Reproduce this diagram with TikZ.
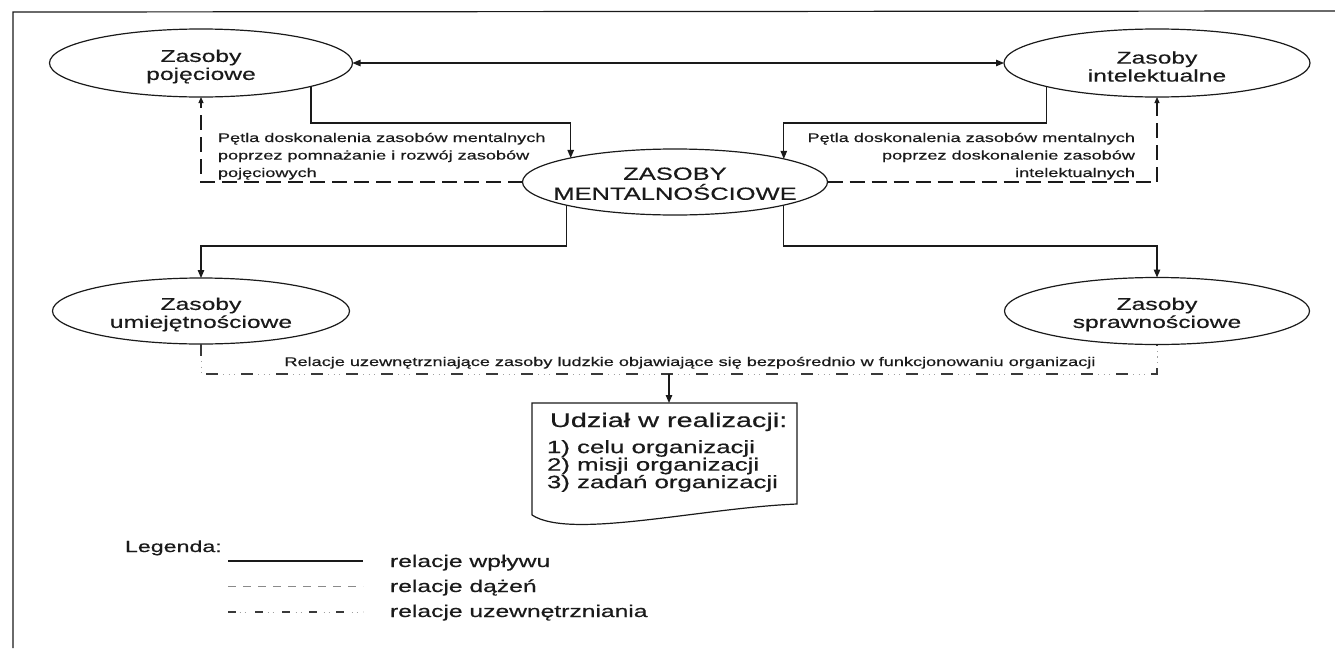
\documentclass[tikz,border=0pt]{standalone}
\usepackage{fontspec}
\setmainfont{Liberation Sans}[FakeStretch=1.45, FakeBold=0.5]
\usetikzlibrary{arrows.meta,shapes.geometric}

\definecolor{ink}{HTML}{1A1A1A}
\definecolor{extgray}{HTML}{3A3A3A}
\definecolor{dotgray}{HTML}{A0A0A0}
\definecolor{legendgray}{HTML}{8A8A8A}

\tikzset{
  every node/.style={inner sep=0pt, outer sep=0pt, text=ink},
  resnode/.style={ellipse, draw=ink, line width=1.2pt, minimum width=#1, minimum height=68pt},
  resnode/.default=305pt,
  restext/.style={font=\fontsize{17}{18}\selectfont, align=center},
  maintext/.style={font=\fontsize{17.6}{20}\selectfont, align=center},
  infl/.style={draw=ink, line width=1.2pt},
  tip/.style={-{Triangle[length=8pt,width=6.5pt]}},
  tips/.style={{Triangle[length=8pt,width=6.5pt]}-{Triangle[length=8pt,width=6.5pt]}},
  smalltip/.style={-{Triangle[length=6pt,width=5pt]}},
  aspir/.style={draw=ink, line width=1.1pt, dash pattern=on 15pt off 7pt},
  % externalisation line: dark dashes with faint dots in between
  extdash/.style={draw=extgray, line width=1.2pt, dash pattern=on 12pt off 23pt},
  extdots/.style={draw=dotgray, line width=1pt,
    dash pattern=on 0pt off 17pt on 1.2pt off 4.3pt on 1.2pt off 4.3pt on 1.2pt off 5.8pt},
  note/.style={font=\fontsize{12.5}{17.5}\selectfont},
  legtext/.style={font=\fontsize{17}{20}\selectfont, anchor=base west},
  legsolid/.style={draw=ink, line width=1.2pt},
  legdash/.style={draw=legendgray, line width=1pt, dash pattern=on 8pt off 7pt},
  legextdash/.style={draw=extgray, line width=1.1pt, dash pattern=on 8pt off 19pt},
  legextdots/.style={draw=dotgray, line width=1pt,
    dash pattern=on 0pt off 11.5pt on 1pt off 4pt on 1pt off 10.5pt},
}

\begin{document}
\begin{tikzpicture}[x=1pt, y=-1pt]
  \useasboundingbox (0,0) rectangle (1335,648);

  % frame (open to the right and bottom)
  \draw[ink, line width=1.2pt] (13,648) -- (13,12) -- (1335,11);

  % resource ellipses
  \node[resnode=303pt] (zp) at (201,63) {};
  \node[resnode=306pt] (zi) at (1157,63) {};
  \node[resnode=305pt, minimum height=66pt] (zm) at (675,182) {};
  \node[resnode=297pt, minimum height=66pt] (zu) at (201,311) {};
  \node[resnode=305pt, minimum height=67pt] (zs) at (1157,311) {};

  \node[restext] (zpt) at ([yshift=-3.5pt]zp.center) {Zasoby\\pojęciowe};
  \node[restext] (zit) at ([yshift=-3.5pt]zi.center) {Zasoby\\intelektualne};
  \node[maintext] (zmt) at ([yshift=-1.7pt]zm.center) {ZASOBY\\MENTALNOŚCIOWE};
  \node[restext] (zut) at ([yshift=-3.5pt]zu.center) {Zasoby\\umiejętnościowe};
  \node[restext] (zst) at ([yshift=-3.5pt]zs.center) {Zasoby\\sprawnościowe};

  % bus levels
  \coordinate (topbus) at (675,123);
  \coordinate (lowbus) at (675,246);
  \coordinate (extbus) at (675,374);

  % influence relations
  \draw[infl, tips] (zp.east) -- (zi.west);
  \draw[infl, tip] (zp.-12.2) |- (zm.167.8 |- topbus) -- (zm.167.8);
  \draw[infl, tip] (zi.192.6) |- (zm.12.2 |- topbus) -- (zm.12.2);
  \draw[infl, tip] (zm.192.2) |- (zu.north |- lowbus) -- (zu.north);
  \draw[infl, tip] (zm.-12.2) |- (zs.north |- lowbus) -- (zs.north);

  % aspiration loops
  \draw[aspir, smalltip] (zm.west) -| (zp.south);
  \draw[aspir, smalltip] (zm.east) -| (zi.south);

  \node[note, anchor=west, align=left] (loopl) at (218,156.2)
    {Pętla doskonalenia zasobów mentalnych\\poprzez pomnażanie i rozwój zasobów\\pojęciowych};
  \node[note, anchor=east, align=right] (loopr) at (1135,156.2)
    {Pętla doskonalenia zasobów mentalnych\\poprzez doskonalenie zasobów\\intelektualnych};

  % externalisation relations
  \draw[extdots] (zu.south) |- (zs.south |- extbus) -- (zs.south);
  \draw[extdash] (zu.south) |- (zs.south |- extbus) -- (zs.south);
  \node[note, anchor=base] (extlabel) at (690,366)
    {Relacje uzewnętrzniające zasoby ludzkie objawiające się bezpośrednio w funkcjonowaniu organizacji};

  % participation document
  \coordinate (extdrop) at (669,374);
  \coordinate (udtop) at (669,403);
  \draw[infl] (532,515) -- (532,403) -- (797,403) -- (797,504)
    .. controls (700,508) and (570,540) .. (532,515);
  \draw[infl, tip] (extdrop) -- (udtop);
  \node[font=\fontsize{19.9}{22}\selectfont, anchor=base west] (udtitle) at (550,427)
    {Udział w realizacji:};
  \node[font=\fontsize{17.8}{17.5}\selectfont, anchor=west, align=left] (udlist) at (547,466)
    {1) celu organizacji\\2) misji organizacji\\3) zadań organizacji};

  % legend
  \node[font=\fontsize{16}{18}\selectfont, anchor=base west] (legtitle) at (125,552) {Legenda:};
  \coordinate (l1a) at (228,561); \coordinate (l1b) at (363,561);
  \coordinate (l2a) at (228,586); \coordinate (l2b) at (363,586);
  \coordinate (l3a) at (228,612); \coordinate (l3b) at (363,612);
  \draw[legsolid] (l1a) -- (l1b);
  \draw[legdash] (l2a) -- (l2b);
  \draw[legextdots] (l3a) -- (l3b);
  \draw[legextdash] (l3a) -- (l3b);
  \node[legtext] (leg1) at (390,567) {relacje wpływu};
  \node[legtext] (leg2) at (390,592) {relacje dążeń};
  \node[legtext] (leg3) at (390,617) {relacje uzewnętrzniania};
\end{tikzpicture}
\end{document}
